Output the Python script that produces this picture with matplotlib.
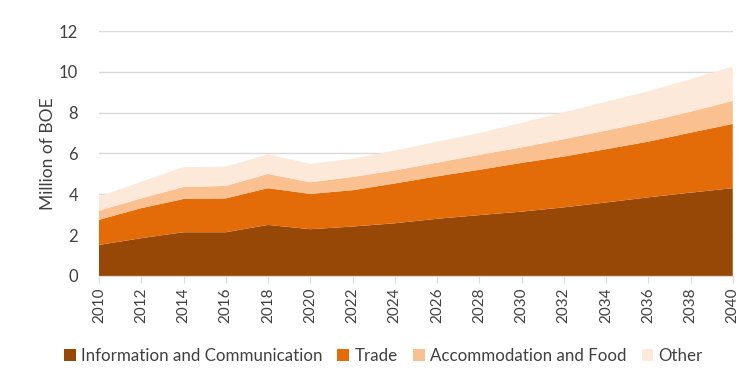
import numpy as np
from matplotlib import pyplot as plt

plt.rcParams['font.family'] = ['Lato', 'DejaVu Sans']

# data (every 2 years)
years = list(range(2010, 2041, 2))
info_comm = [1.52, 1.85, 2.14, 2.14, 2.50, 2.29, 2.42, 2.58, 2.80, 2.98, 3.15, 3.36, 3.60, 3.85, 4.08, 4.30]
trade = [1.23, 1.47, 1.63, 1.66, 1.80, 1.73, 1.78, 1.95, 2.08, 2.22, 2.39, 2.49, 2.61, 2.73, 2.94, 3.15]
accom_food = [0.45, 0.48, 0.59, 0.61, 0.70, 0.57, 0.65, 0.64, 0.67, 0.73, 0.76, 0.85, 0.91, 0.98, 1.03, 1.13]
other = [0.69, 0.82, 0.97, 0.95, 0.96, 0.90, 0.90, 0.97, 1.03, 1.07, 1.20, 1.32, 1.42, 1.49, 1.59, 1.68]

labels = ['Information and Communication', 'Trade', 'Accommodation and Food', 'Other']
colors = ['#974806', '#E36C09', '#FAC090', '#FDE9D9']

fig = plt.figure(figsize=(7.5, 3.79), dpi=100)
ax = fig.add_axes([0.132, 0.272, 0.845, 0.646])

ax.stackplot(years, info_comm, trade, accom_food, other,
             labels=labels, colors=colors, linewidth=0)

ax.set_xlim(2010, 2040)
ax.set_ylim(0, 12)
ax.set_yticks(range(0, 13, 2))
ax.set_xticks(years)
ax.set_xticklabels([str(y) for y in years], rotation=90, fontsize=11, color='#404040')
ax.tick_params(axis='y', length=0, labelsize=12, labelcolor='#404040', pad=15)
ax.tick_params(axis='x', length=5, color='#D9D9D9', pad=3)
ax.yaxis.grid(True, color='#D9D9D9', linewidth=1)
ax.set_axisbelow(True)
for side in ['top', 'right', 'left']:
    ax.spines[side].set_visible(False)
ax.spines['bottom'].set_color('#D9D9D9')
ax.set_ylabel('Million of BOE', fontsize=12.5, color='#404040', labelpad=2)

fig.legend(loc='center', bbox_to_anchor=(0.511, 0.06), ncol=4, frameon=False,
           fontsize=12.2, handlelength=0.7, handleheight=0.7, handletextpad=0.3,
           columnspacing=0.9, labelcolor='#404040')

plt.savefig('out.png', dpi=100)
